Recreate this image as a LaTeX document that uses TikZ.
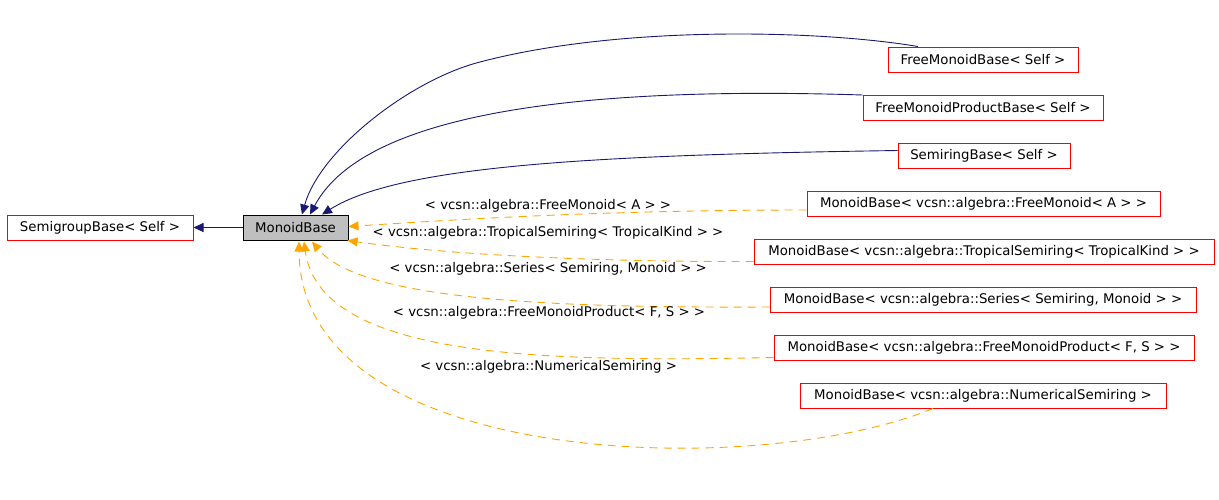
\documentclass[tikz,border=0pt]{standalone}
\usepackage{fontspec}
\setmainfont{DejaVu Sans}
\usetikzlibrary{arrows.meta,calc}
\definecolor{navyedge}{HTML}{191970}
\definecolor{orangeedge}{HTML}{FFA500}
\definecolor{boxred}{HTML}{FF0000}
\definecolor{boxgray}{HTML}{BFBFBF}
\tikzset{
  cls/.style={draw=boxred, line width=1pt, inner sep=0pt, minimum height=25pt, font=\fontsize{13.3}{15}\selectfont},
  cur/.style={draw=black, fill=boxgray, line width=1pt, inner sep=0pt, minimum height=25pt, font=\fontsize{13.3}{15}\selectfont},
  inh/.style={draw=navyedge, line width=0.9pt, -{Triangle[length=10pt,width=9pt]}},
  tmpl/.style={draw=orangeedge, line width=0.9pt, dash pattern=on 8pt off 6pt, -{Triangle[length=10pt,width=9pt]}},
  lbl/.style={font=\fontsize{13.3}{15}\selectfont, inner sep=0pt}
}
\begin{document}
\begin{tikzpicture}[x=1pt,y=-1pt]
\useasboundingbox (0,0) rectangle (1219,499);
\node[cls, minimum width=186pt] (sg) at (100,227.5) {SemigroupBase< Self >};
\node[cur, minimum width=105pt] (mb) at (295.5,227.5) {MonoidBase};
\node[cls, minimum width=190pt] (fmb) at (983,59.5) {FreeMonoidBase< Self >};
\node[cls, minimum width=240pt] (fmpb) at (983,108) {FreeMonoidProductBase< Self >};
\node[cls, minimum width=172pt] (srb) at (984,155.5) {SemiringBase< Self >};
\node[cls, minimum width=353pt] (mfm) at (983.5,204) {MonoidBase< vcsn::algebra::FreeMonoid< A > >};
\node[cls, minimum width=460pt] (mts) at (984,251.5) {MonoidBase< vcsn::algebra::TropicalSemiring< TropicalKind > >};
\node[cls, minimum width=426pt] (mse) at (983,299.5) {MonoidBase< vcsn::algebra::Series< Semiring, Monoid > >};
\node[cls, minimum width=420pt] (mfp) at (984,347.5) {MonoidBase< vcsn::algebra::FreeMonoidProduct< F, S > >};
\node[cls, minimum width=366pt] (mns) at (983,395.5) {MonoidBase< vcsn::algebra::NumericalSemiring >};

% inheritance
\draw[inh] (mb.west) -- (sg.east);
\draw[inh] ($(fmb.north)+(-65,0)$) .. controls (820,30) and (620,25) .. (480,62)
  .. controls (410,80) and (320,150) .. ($(mb.north)+(6.5,0)$);
\draw[inh] (fmpb.north west) .. controls (550,85) and (360,120) .. ($(mb.north)+(14.5,0)$);
\draw[inh] ($(srb.west)+(0,-5)$) .. controls (600,155) and (400,165) .. ($(mb.north)+(26.5,0)$);

% template instances
\draw[tmpl] ($(mfm.west)+(0,6)$) .. controls (600,210) and (450,220) .. ($(mb.east)+(0,-1)$);
\draw[tmpl] ($(mts.west)+(0,10)$) .. controls (600,262) and (450,255) .. ($(mb.south east)+(-1,0)$);
\draw[tmpl] ($(mse.west)+(0,7.5)$) .. controls (550,308) and (360,300) .. ($(mb.south)+(16.5,1)$);
\draw[tmpl] ($(mfp.west)+(0,10)$) .. controls (550,362) and (320,360) .. ($(mb.south)+(8.5,1)$);
\draw[tmpl] ($(mns.south)+(-50,0)$) .. controls (760,480) and (300,470) .. ($(mb.south)+(3.5,1)$);

\node[lbl] (l1) at (548,206) {< vcsn::algebra::FreeMonoid< A > >};
\node[lbl] (l2) at (548,233) {< vcsn::algebra::TropicalSemiring< TropicalKind > >};
\node[lbl] (l3) at (548,269) {< vcsn::algebra::Series< Semiring, Monoid > >};
\node[lbl] (l4) at (549,313) {< vcsn::algebra::FreeMonoidProduct< F, S > >};
\node[lbl] (l5) at (548.5,367) {< vcsn::algebra::NumericalSemiring >};
\end{tikzpicture}
\end{document}
